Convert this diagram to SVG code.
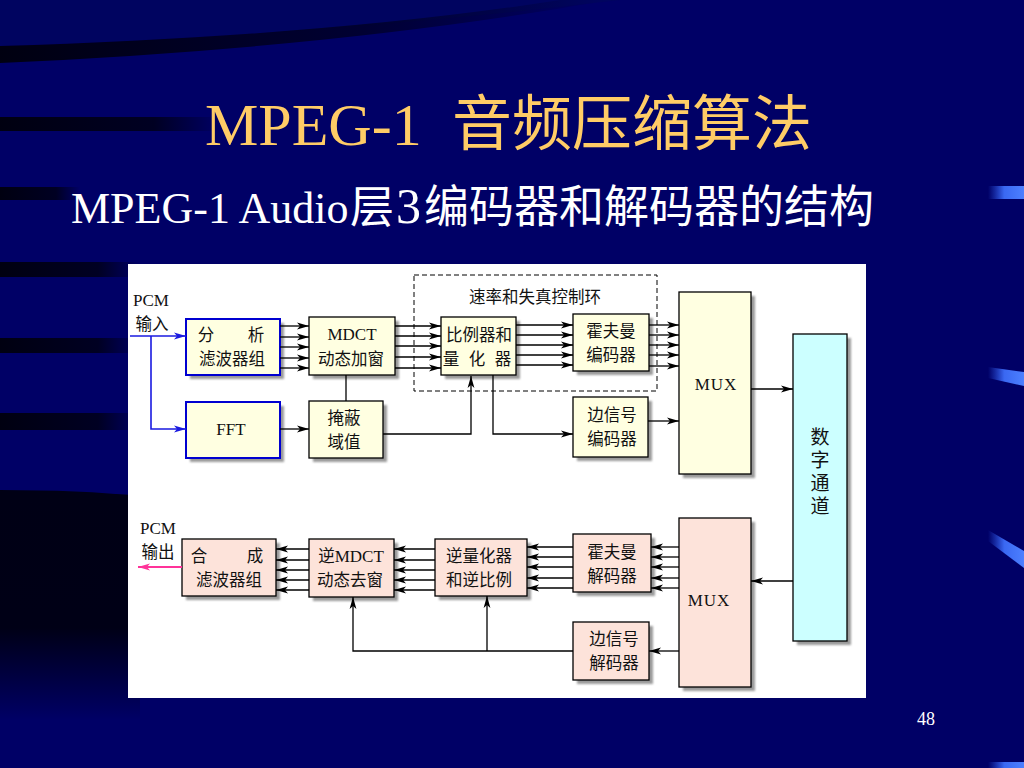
<svg xmlns="http://www.w3.org/2000/svg" width="1024" height="768" viewBox="0 0 1024 768">
<defs>
  <linearGradient id="fadeR" x1="0" y1="0" x2="1" y2="0">
    <stop offset="0" stop-color="#00000c" stop-opacity="0.95"/>
    <stop offset="0.7" stop-color="#00000c" stop-opacity="0.75"/>
    <stop offset="1" stop-color="#00000c" stop-opacity="0"/>
  </linearGradient>
  <linearGradient id="arcG" x1="0" y1="0" x2="1" y2="0">
    <stop offset="0" stop-color="#00000c" stop-opacity="0.95"/>
    <stop offset="0.6" stop-color="#000010" stop-opacity="0.6"/>
    <stop offset="1" stop-color="#000010" stop-opacity="0"/>
  </linearGradient>
  <linearGradient id="darkV" x1="0" y1="0" x2="0" y2="1">
    <stop offset="0" stop-color="#00000c" stop-opacity="0.9"/>
    <stop offset="0.6" stop-color="#000008" stop-opacity="0.85"/>
    <stop offset="1" stop-color="#000008" stop-opacity="0"/>
  </linearGradient>
  <linearGradient id="bar" x1="0" y1="0" x2="1" y2="0">
    <stop offset="0" stop-color="#2a55e8" stop-opacity="0"/>
    <stop offset="0.45" stop-color="#3a68f2"/>
    <stop offset="1" stop-color="#4d80ff"/>
  </linearGradient>
  <filter id="blur" x="-10%" y="-10%" width="120%" height="120%">
    <feGaussianBlur stdDeviation="1"/>
  </filter>
  <marker id="ah" markerUnits="userSpaceOnUse" markerWidth="13" markerHeight="8" refX="12" refY="4" orient="auto">
    <path d="M0,0.6 L12,4 L0,7.4 L3,4 z" fill="#000"/>
  </marker>
  <marker id="ahB" markerUnits="userSpaceOnUse" markerWidth="13" markerHeight="8" refX="12" refY="4" orient="auto">
    <path d="M0,0.6 L12,4 L0,7.4 L3,4 z" fill="#1a1ae0"/>
  </marker>
  <marker id="ahP" markerUnits="userSpaceOnUse" markerWidth="13" markerHeight="8" refX="12" refY="4" orient="auto">
    <path d="M0,0.5 L12,4 L0,7.5 L3,4 z" fill="#ff3399"/>
  </marker>
</defs>
<style>
  .sh{fill:#9a9a9a;filter:url(#blur)}
  .box{stroke:#000;stroke-width:1.3}
  .bb{stroke:#0000d0;stroke-width:2}
  .enc{fill:#ffffe1}
  .dec{fill:#fde3da}
  .ch{fill:#ccffff}
  .t{font-family:"Noto Sans CJK SC","Liberation Serif",sans-serif;font-size:16.5px;fill:#111;text-anchor:middle}
  .s{font-family:"Liberation Serif","Noto Sans CJK SC",serif;font-size:17px;fill:#111;text-anchor:middle}
  .lat{font-family:"Liberation Serif","Noto Sans CJK SC",serif;font-size:17px}
  .ln{stroke:#000;stroke-width:1.3;fill:none}
  .a{marker-end:url(#ah)}
</style>

<!-- background -->
<rect x="0" y="0" width="1024" height="768" fill="#000066"/>
<path d="M0,0 H620 Q330,35 0,46 Z" fill="#00075c" opacity="0.6"/>
<path d="M0,46 Q330,36 560,0 L610,0 Q340,48 0,63 Z" fill="url(#arcG)"/>
<rect x="0" y="117" width="220" height="14" fill="url(#fadeR)"/>
<rect x="0" y="187" width="80" height="13" fill="url(#fadeR)"/>
<rect x="0" y="262" width="140" height="15" fill="url(#fadeR)"/>
<rect x="0" y="338" width="140" height="15" fill="url(#fadeR)"/>
<rect x="0" y="413" width="140" height="17" fill="url(#fadeR)"/>
<path d="M0,490 Q80,490 140,496 L140,720 L0,720 Z" fill="url(#darkV)"/>
<path d="M988,186 H1024 V199 H988 Z" fill="url(#bar)"/>
<path d="M988,367 L1024,372 L1024,386 L988,378 Z" fill="url(#bar)"/>
<path d="M988,530 L1024,551 L1024,568 L988,541 Z" fill="url(#bar)"/>
<path d="M988,762 H1024 V768 H988 Z" fill="url(#bar)"/>

<!-- titles -->
<text x="205" y="145" font-family="Liberation Serif, Noto Sans CJK SC, serif" font-size="60" fill="#ffcc66">MPEG-1<tspan x="452" font-family="Noto Sans CJK SC, sans-serif">音频压缩算法</tspan></text>
<text x="71" y="223" font-family="Liberation Serif, Noto Sans CJK SC, serif" font-size="44" fill="#ffffff">MPEG-1 Audio<tspan x="350" font-family="Noto Sans CJK SC, sans-serif" font-size="44">层</tspan><tspan x="396" font-size="50">3</tspan><tspan x="424" font-family="Noto Sans CJK SC, sans-serif" font-size="45">编码器和解码器的结构</tspan></text>
<text x="926" y="725" font-family="Liberation Serif, serif" font-size="18" fill="#ffffff" text-anchor="middle">48</text>

<!-- diagram panel -->
<rect x="128" y="264" width="738" height="434" fill="#ffffff"/>

<g id="pcm-in">
  <text class="t"><tspan class="lat" x="151" y="306" font-size="18">PCM</tspan><tspan x="152" y="330">输入</tspan></text>
</g>
<g id="pcm-out">
  <text class="t"><tspan class="lat" x="158" y="534" font-size="18">PCM</tspan><tspan x="158" y="558">输出</tspan></text>
</g>

<g id="rate-loop">
  <rect x="414" y="275" width="243" height="116" fill="none" stroke="#000" stroke-width="1" stroke-dasharray="5,3"/>
  <text class="t" x="535" y="303" font-size="17">速率和失真控制环</text>
</g>

<g id="analysis">
  <rect class="sh" x="190" y="323" width="94" height="56"/>
  <rect class="enc bb" x="186" y="319" width="94" height="56"/>
  <text class="t"><tspan x="206" y="341">分</tspan><tspan x="256" y="341">析</tspan><tspan x="232" y="365">滤波器组</tspan></text>
</g>
<g id="mdct">
  <rect class="sh" x="313" y="321" width="86" height="58"/>
  <rect class="enc box" x="309" y="317" width="86" height="58"/>
  <text class="t"><tspan class="lat" x="352" y="340">MDCT</tspan><tspan x="351" y="365">动态加窗</tspan></text>
</g>
<g id="fft">
  <rect class="sh" x="190" y="406" width="94" height="56"/>
  <rect class="enc bb" x="186" y="402" width="94" height="56"/>
  <text class="s" x="231" y="435">FFT</text>
</g>
<g id="mask">
  <rect class="sh" x="313" y="405" width="74" height="57"/>
  <rect class="enc box" x="309" y="401" width="74" height="57"/>
  <text class="t"><tspan x="344" y="424">掩蔽</tspan><tspan x="344" y="448">域值</tspan></text>
</g>
<g id="quant">
  <rect class="sh" x="445" y="321" width="75" height="58"/>
  <rect class="enc box" x="441" y="317" width="75" height="58"/>
  <text class="t"><tspan x="479" y="341">比例器和</tspan><tspan x="451" y="365">量</tspan><tspan x="477" y="365">化</tspan><tspan x="503" y="365">器</tspan></text>
</g>
<g id="huff-enc">
  <rect class="sh" x="577" y="318" width="76" height="57"/>
  <rect class="enc box" x="573" y="314" width="76" height="57"/>
  <text class="t"><tspan x="611" y="337">霍夫曼</tspan><tspan x="611" y="361">编码器</tspan></text>
</g>
<g id="side-enc">
  <rect class="sh" x="577" y="401" width="75" height="60"/>
  <rect class="enc box" x="573" y="397" width="75" height="60"/>
  <text class="t"><tspan x="612" y="421">边信号</tspan><tspan x="612" y="445">编码器</tspan></text>
</g>
<g id="mux-enc">
  <rect class="sh" x="683" y="296" width="72" height="182"/>
  <rect class="enc box" x="679" y="292" width="72" height="182"/>
  <text class="s" x="716" y="390" letter-spacing="1">MUX</text>
</g>
<g id="channel">
  <rect class="sh" x="797" y="338" width="54" height="307"/>
  <rect class="ch box" x="793" y="334" width="54" height="307"/>
  <text x="820" y="427" writing-mode="vertical-rl" font-family="Noto Sans CJK SC, sans-serif" font-size="19" letter-spacing="4" fill="#111">数字通道</text>
</g>
<g id="mux-dec">
  <rect class="sh" x="683" y="522" width="72" height="169"/>
  <rect class="dec box" x="679" y="518" width="72" height="169"/>
  <text class="s" x="709" y="606" letter-spacing="1">MUX</text>
</g>
<g id="huff-dec">
  <rect class="sh" x="577" y="538" width="78" height="58"/>
  <rect class="dec box" x="573" y="534" width="78" height="58"/>
  <text class="t"><tspan x="612" y="558">霍夫曼</tspan><tspan x="612" y="582">解码器</tspan></text>
</g>
<g id="side-dec">
  <rect class="sh" x="577" y="626" width="76" height="58"/>
  <rect class="dec box" x="573" y="622" width="76" height="58"/>
  <text class="t"><tspan x="614" y="645">边信号</tspan><tspan x="614" y="669">解码器</tspan></text>
</g>
<g id="dequant">
  <rect class="sh" x="439" y="543" width="92" height="57"/>
  <rect class="dec box" x="435" y="539" width="92" height="57"/>
  <text class="t"><tspan x="479" y="562">逆量化器</tspan><tspan x="479" y="586">和逆比例</tspan></text>
</g>
<g id="imdct">
  <rect class="sh" x="313" y="543" width="85" height="58"/>
  <rect class="dec box" x="309" y="539" width="85" height="58"/>
  <text class="t"><tspan x="351" y="562">逆<tspan class="lat">MDCT</tspan></tspan><tspan x="350" y="586">动态去窗</tspan></text>
</g>
<g id="synthesis">
  <rect class="sh" x="186" y="543" width="94" height="57"/>
  <rect class="dec box" x="182" y="539" width="94" height="57"/>
  <text class="t"><tspan x="199" y="562">合</tspan><tspan x="255" y="562">成</tspan><tspan x="229" y="586">滤波器组</tspan></text>
</g>

<g id="connectors">
  <path d="M130,336 H186" stroke="#1a1ae0" stroke-width="1.6" fill="none" marker-end="url(#ahB)"/>
  <path d="M151,336 V429 H186" stroke="#1a1ae0" stroke-width="1.6" fill="none" marker-end="url(#ahB)"/>
  <path class="ln a" d="M280,326 H309"/>
  <path class="ln a" d="M280,337 H309"/>
  <path class="ln a" d="M280,347 H309"/>
  <path class="ln a" d="M280,358 H309"/>
  <path class="ln a" d="M280,368 H309"/>
  <path class="ln a" d="M280,429 H309"/>
  <path class="ln" d="M346,375 V401"/>
  <path class="ln a" d="M395,326 H441"/>
  <path class="ln a" d="M395,336 H441"/>
  <path class="ln a" d="M395,346 H441"/>
  <path class="ln a" d="M395,357 H441"/>
  <path class="ln a" d="M395,368 H441"/>
  <path class="ln a" d="M383,434 H471 V376"/>
  <path class="ln a" d="M516,325 H573"/>
  <path class="ln a" d="M516,335 H573"/>
  <path class="ln a" d="M516,345 H573"/>
  <path class="ln a" d="M516,355 H573"/>
  <path class="ln a" d="M516,365 H573"/>
  <path class="ln a" d="M493,375 V434 H573"/>
  <path class="ln a" d="M649,325 H679"/>
  <path class="ln a" d="M649,335 H679"/>
  <path class="ln a" d="M649,345 H679"/>
  <path class="ln a" d="M649,355 H679"/>
  <path class="ln a" d="M649,366 H679"/>
  <path class="ln a" d="M648,421 H679"/>
  <path class="ln a" d="M751,389 H793"/>
  <path class="ln a" d="M793,581 H751"/>
  <path class="ln a" d="M679,547 H651"/>
  <path class="ln a" d="M679,557 H651"/>
  <path class="ln a" d="M679,567 H651"/>
  <path class="ln a" d="M679,578 H651"/>
  <path class="ln a" d="M679,588 H651"/>
  <path class="ln a" d="M573,547 H527"/>
  <path class="ln a" d="M573,557 H527"/>
  <path class="ln a" d="M573,567 H527"/>
  <path class="ln a" d="M573,578 H527"/>
  <path class="ln a" d="M573,588 H527"/>
  <path class="ln a" d="M435,549 H394"/>
  <path class="ln a" d="M435,560 H394"/>
  <path class="ln a" d="M435,570 H394"/>
  <path class="ln a" d="M435,580 H394"/>
  <path class="ln a" d="M435,590 H394"/>
  <path class="ln a" d="M309,549 H276"/>
  <path class="ln a" d="M309,560 H276"/>
  <path class="ln a" d="M309,570 H276"/>
  <path class="ln a" d="M309,580 H276"/>
  <path class="ln a" d="M309,590 H276"/>
  <path class="ln a" d="M679,651 H649"/>
  <path class="ln a" d="M573,651 H353 V597"/>
  <path class="ln a" d="M487,651 V596"/>
  <path d="M182,567 H138" stroke="#ff3399" stroke-width="2" fill="none" marker-end="url(#ahP)"/>
</g>
</svg>
